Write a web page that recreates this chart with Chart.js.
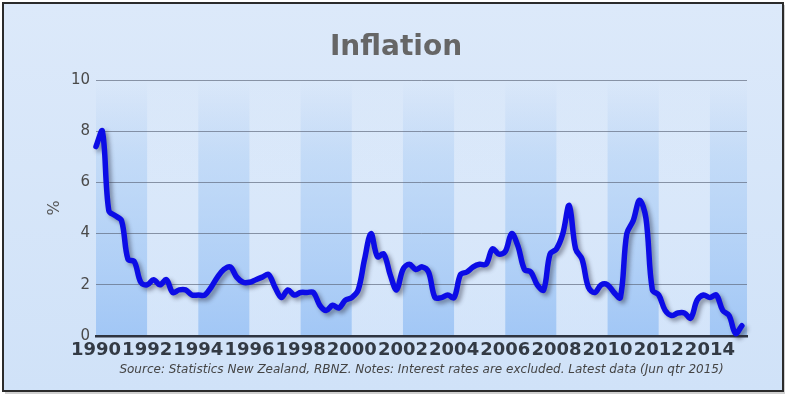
<!DOCTYPE html>
<html>
<head>
<meta charset="utf-8">
<title>Inflation</title>
<script src="https://cdn.jsdelivr.net/npm/chart.js@4.4.0/dist/chart.umd.min.js"></script>
<style>
  html, body { margin: 0; padding: 0; background: #fff; }
  #wrap { width: 787px; height: 396px; }
</style>
</head>
<body>
<div id="wrap"><canvas id="inflationChart" width="787" height="396"></canvas></div>
<script>
// 데이터: 연간 물가상승률 (%), 분기별, 1990 Mar qtr ~ 2015 Jun qtr
const firstYear = 1990;
const quartersPerYear = 4;
const inflation = [
    7.4, 8.0, 4.9, 4.7,   // 1990
    4.5, 3.0, 2.9, 2.1,   // 1991
    2.0, 2.2, 2.0, 2.2,   // 1992
    1.7, 1.8, 1.8, 1.6,   // 1993
    1.6, 1.6, 1.9, 2.3,   // 1994
    2.6, 2.7, 2.3, 2.1,   // 1995
    2.1, 2.2, 2.3, 2.4,   // 1996
    1.9, 1.5, 1.8, 1.6,   // 1997
    1.7, 1.7, 1.7, 1.2,   // 1998
    1.0, 1.2, 1.1, 1.4,   // 1999
    1.5, 1.8, 3.0, 4.0,   // 2000
    3.1, 3.2, 2.4, 1.8,   // 2001
    2.6, 2.8, 2.6, 2.7,   // 2002
    2.5, 1.5, 1.5, 1.6,   // 2003
    1.5, 2.4, 2.5, 2.7,   // 2004
    2.8, 2.8, 3.4, 3.2,   // 2005
    3.3, 4.0, 3.5, 2.6,   // 2006
    2.5, 2.0, 1.8, 3.2,   // 2007
    3.4, 4.0, 5.1, 3.4,   // 2008
    3.0, 1.9, 1.7, 2.0,   // 2009
    2.0, 1.7, 1.5, 4.0,   // 2010
    4.5, 5.3, 4.6, 1.8,   // 2011
    1.6, 1.0, 0.8, 0.9,   // 2012
    0.9, 0.7, 1.4, 1.6,   // 2013
    1.5, 1.6, 1.0, 0.8,   // 2014
    0.1, 0.4              // 2015
];
const yearTicks = [1990, 1992, 1994, 1996, 1998, 2000, 2002, 2004, 2006, 2008, 2010, 2012, 2014];
const xMin = 1990;
const xMax = 2015.45;
const yMin = 0;
const yMax = 10;
const yStep = 2;

const titleText = 'Inflation';
const yTitleText = '%';
const sourceText = 'Source: Statistics New Zealand, RBNZ. Notes: Interest rates are excluded. Latest data (Jun qtr 2015)';

const points = inflation.map((v, i) => ({ x: firstYear + i / quartersPerYear, y: v }));

// 배경, 테두리, 2년 간격 줄무늬
const backgroundPlugin = {
    id: 'backgroundPlugin',
    beforeDraw(chart) {
        const ctx = chart.ctx;
        const area = chart.chartArea;
        const xs = chart.scales.x;
        ctx.save();
        ctx.fillStyle = '#ffffff';
        ctx.fillRect(0, 0, chart.width, chart.height);

        // 바깥 그림자
        ctx.fillStyle = 'rgba(120,120,120,0.35)';
        ctx.fillRect(5, 5, 780, 389);

        const bg = ctx.createLinearGradient(0, 3, 0, 391);
        bg.addColorStop(0, '#dce9fa');
        bg.addColorStop(1, '#d0e2f8');
        ctx.fillStyle = bg;
        ctx.fillRect(3, 3, 780, 388);

        ctx.lineWidth = 2;
        ctx.strokeStyle = '#2b2b2b';
        ctx.strokeRect(3, 3, 780, 388);

        // 줄무늬
        yearTicks.forEach((yr, i) => {
            const x0 = xs.getPixelForValue(yr);
            const x1 = Math.min(xs.getPixelForValue(yr + 2), area.right);
            const g = ctx.createLinearGradient(0, area.top, 0, area.bottom);
            if (i % 2 === 0) {
                g.addColorStop(0, 'rgba(170,200,240,0)');
                g.addColorStop(0.3, 'rgba(165,202,245,0.4)');
                g.addColorStop(1, 'rgba(150,192,245,0.8)');
            } else {
                g.addColorStop(0, 'rgba(235,243,253,0.0)');
                g.addColorStop(1, 'rgba(212,229,251,0.6)');
            }
            ctx.fillStyle = g;
            ctx.fillRect(x0, area.top, x1 - x0, area.bottom - area.top);
        });
        ctx.restore();
    }
};

// 선 그림자
const shadowPlugin = {
    id: 'shadowPlugin',
    beforeDatasetDraw(chart) {
        const ctx = chart.ctx;
        ctx.save();
        ctx.shadowColor = 'rgba(40,40,60,0.45)';
        ctx.shadowOffsetX = 3;
        ctx.shadowOffsetY = 3;
        ctx.shadowBlur = 4;
    },
    afterDatasetDraw(chart) {
        chart.ctx.restore();
    }
};

// 제목과 출처 문구
const textPlugin = {
    id: 'textPlugin',
    afterDraw(chart) {
        const ctx = chart.ctx;
        const area = chart.chartArea;
        ctx.save();
        ctx.textAlign = 'center';
        ctx.textBaseline = 'middle';
        ctx.fillStyle = '#666666';
        ctx.font = 'bold 28px "DejaVu Sans"';
        ctx.fillText(titleText, 396, 48);

        ctx.fillStyle = '#444444';
        ctx.font = 'italic 12px "DejaVu Sans"';
        ctx.fillText(sourceText, (area.left + area.right) / 2, 370);
        ctx.restore();
    }
};

const ctx = document.getElementById('inflationChart').getContext('2d');
new Chart(ctx, {
    type: 'line',
    data: {
        datasets: [{
            label: titleText,
            data: points,
            borderColor: '#0c0ce6',
            borderWidth: 5.5,
            pointRadius: 0,
            tension: 0.35,
            fill: false,
            clip: 10,
            borderCapStyle: 'round',
            borderJoinStyle: 'round'
        }]
    },
    options: {
        responsive: false,
        animation: false,
        layout: {
            padding: { left: 4, right: 40, top: 80, bottom: 36 }
        },
        plugins: {
            legend: { display: false },
            tooltip: { enabled: false },
            title: { display: false },
            subtitle: { display: false }
        },
        scales: {
            x: {
                type: 'linear',
                min: xMin,
                max: xMax,
                afterBuildTicks: scale => {
                    scale.ticks = yearTicks.map(v => ({ value: v }));
                },
                afterFit: scale => { scale.height = 24; },
                grid: { display: false, drawTicks: false },
                border: { display: true, color: '#2e3440', width: 2.5 },
                ticks: {
                    autoSkip: false,
                    maxRotation: 0,
                    padding: 4,
                    color: '#333a44',
                    font: { family: 'DejaVu Sans', size: 18, weight: 'bold' },
                    callback: v => String(v)
                }
            },
            y: {
                min: yMin,
                max: yMax,
                afterFit: scale => { scale.width = 92; },
                grid: { color: 'rgba(90,100,120,0.65)', lineWidth: 1, drawTicks: false },
                border: { display: false },
                ticks: {
                    stepSize: yStep,
                    padding: 6,
                    color: '#4a4a4a',
                    font: { family: 'DejaVu Sans', size: 15 }
                },
                title: {
                    display: true,
                    text: yTitleText,
                    color: '#555555',
                    font: { family: 'DejaVu Sans', size: 16 },
                    padding: { top: 41, bottom: 0 }
                }
            }
        }
    },
    plugins: [backgroundPlugin, shadowPlugin, textPlugin]
});
</script>
</body>
</html>
